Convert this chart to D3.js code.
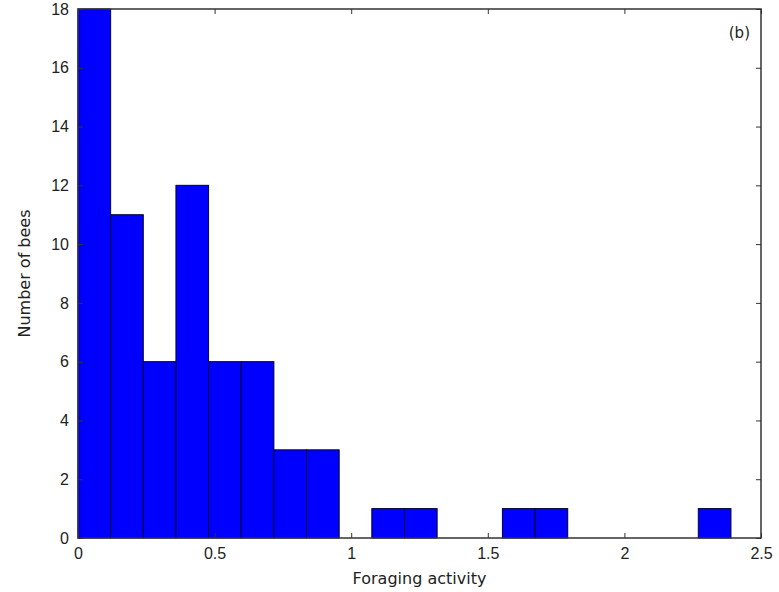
<!DOCTYPE html>
<html>
<head>
<meta charset="utf-8">
<script src="https://cdn.jsdelivr.net/npm/d3@7"></script>
<style>
  body { margin: 0; background: #fff; }
  svg { display: block; font-family: "DejaVu Sans", sans-serif; }
</style>
</head>
<body>
<div id="chart"></div>
<script>
// histogram bin edges (foraging activity) and counts per bin
var binEdges = [0, 0.1195, 0.239, 0.3585, 0.478, 0.5975, 0.717, 0.8365, 0.956, 1.0755,
                1.195, 1.3145, 1.434, 1.5535, 1.673, 1.7925, 1.912, 2.0315, 2.151, 2.2705, 2.39];
var counts = [18, 11, 6, 12, 6, 6, 3, 3, 0, 1, 1, 0, 0, 1, 1, 0, 0, 0, 0, 1];

var xTicks = [0, 0.5, 1, 1.5, 2, 2.5];
var xTickLabels = ["0", "0.5", "1", "1.5", "2", "2.5"];
var yTicks = [0, 2, 4, 6, 8, 10, 12, 14, 16, 18];

var width = 779, height = 592;
var margin = { top: 9, right: 18, bottom: 54, left: 78 };
var w = width - margin.left - margin.right,
    h = height - margin.top - margin.bottom;

var svg = d3.select("#chart").append("svg")
    .attr("width", width)
    .attr("height", height);

var g = svg.append("g")
    .attr("transform", "translate(" + margin.left + "," + margin.top + ")");

var xScale = d3.scaleLinear().domain([0, 2.5]).range([0, w]);
var yScale = d3.scaleLinear().domain([0, 18]).range([h, 0]);

var bins = counts.map(function (c, i) {
    return { x0: binEdges[i], x1: binEdges[i + 1], count: c };
}).filter(function (d) { return d.count > 0; });

// bars
g.selectAll("rect.bar").data(bins)
    .enter().append("rect")
    .attr("class", "bar")
    .attr("x", function (d) { return xScale(d.x0); })
    .attr("y", function (d) { return yScale(d.count); })
    .attr("width", function (d) { return xScale(d.x1) - xScale(d.x0); })
    .attr("height", function (d) { return yScale(0) - yScale(d.count); })
    .attr("fill", "#0000ff")
    .attr("stroke", "#000033")
    .attr("stroke-width", 1);

// axes, ticks pointing inward
var axisStyle = function (sel) {
    sel.select(".domain").remove();
    sel.selectAll(".tick line").attr("stroke", "#333");
    sel.selectAll(".tick text").attr("fill", "#222").attr("font-size", "16px");
};

g.append("g")
    .attr("transform", "translate(0," + h + ")")
    .call(d3.axisBottom(xScale).tickValues(xTicks)
        .tickFormat(function (d, i) { return xTickLabels[i]; })
        .tickSizeInner(-5).tickPadding(10))
    .call(axisStyle);

g.append("g")
    .call(d3.axisTop(xScale).tickValues(xTicks).tickFormat("").tickSizeInner(-5))
    .call(axisStyle);

g.append("g")
    .call(d3.axisLeft(yScale).tickValues(yTicks).tickSizeInner(-5).tickPadding(9))
    .call(axisStyle);

g.append("g")
    .attr("transform", "translate(" + w + ",0)")
    .call(d3.axisRight(yScale).tickValues(yTicks).tickFormat("").tickSizeInner(-5))
    .call(axisStyle);

// frame
g.append("rect")
    .attr("width", w)
    .attr("height", h)
    .attr("fill", "none")
    .attr("stroke", "#333")
    .attr("stroke-width", 1.5);

// labels
svg.append("text")
    .text("Foraging activity")
    .attr("x", margin.left + w / 2)
    .attr("y", 584)
    .attr("text-anchor", "middle")
    .attr("font-size", "16px")
    .attr("fill", "#222");

svg.append("text")
    .text("Number of bees")
    .attr("transform", "translate(30," + (margin.top + h / 2) + ") rotate(-90)")
    .attr("text-anchor", "middle")
    .attr("font-size", "16px")
    .attr("fill", "#222");

g.append("text")
    .text("(b)")
    .attr("x", w - 11)
    .attr("y", 29)
    .attr("text-anchor", "end")
    .attr("font-size", "15px")
    .attr("fill", "#222");
</script>
</body>
</html>
